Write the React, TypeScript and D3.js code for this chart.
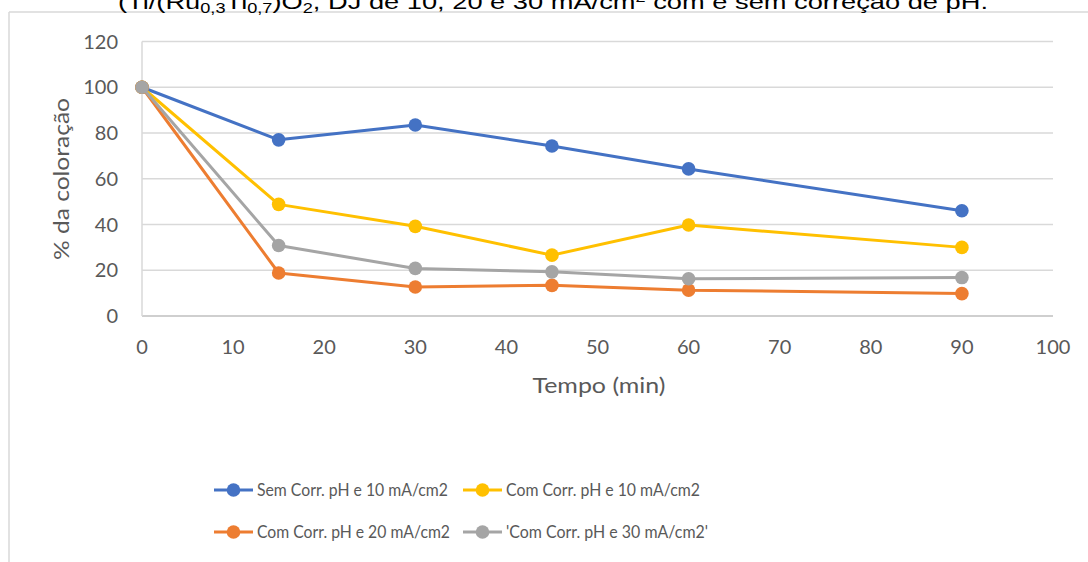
import React from "react";
import * as d3 from "d3";

const times = [0, 15, 30, 45, 60, 90];
const semCorr10 = [100, 77, 83.5, 74.3, 64.3, 46];
const comCorr10 = [100, 48.8, 39.2, 26.6, 39.8, 30];
const comCorr20 = [100, 18.8, 12.7, 13.4, 11.3, 9.8];
const comCorr30 = [100, 30.8, 20.8, 19.3, 16.3, 16.8];
const seriesNames = [
  "Sem Corr. pH e 10 mA/cm2",
  "Com Corr. pH e 10 mA/cm2",
  "Com Corr. pH e 20 mA/cm2",
  "'Com Corr. pH e 30 mA/cm2'",
];
const seriesColors = ["#4472C4", "#FFC000", "#ED7D31", "#A5A5A5"];
const xTicks = [0, 10, 20, 30, 40, 50, 60, 70, 80, 90, 100];
const yTicks = [0, 20, 40, 60, 80, 100, 120];

const W = 1088;
const H = 562;
const FONT = "Lato, 'Open Sans', sans-serif";

export default function App() {
  const x = d3.scaleLinear().domain([0, 100]).range([142, 1053]);
  const y = d3.scaleLinear().domain([0, 120]).range([316, 41.5]);
  const allSeries = [semCorr10, comCorr10, comCorr20, comCorr30];
  const line = d3
    .line<[number, number]>()
    .x((d) => x(d[0]))
    .y((d) => y(d[1]));

  const legendPos = [
    [214, 490, 191],
    [463, 490, 194],
    [214, 532, 193],
    [463, 532, 202],
  ];

  return (
    <svg
      width={W}
      height={H}
      style={{ position: "absolute", left: 0, top: 0, background: "#fff" }}
    >
      <rect x={0} y={0} width={W} height={H} fill="#fff" />
      {/* chart border */}
      <line x1={9} y1={12} x2={W} y2={12} stroke="#D9D9D9" strokeWidth={1.5} />
      <line x1={9} y1={12} x2={9} y2={H} stroke="#D9D9D9" strokeWidth={1.5} />
      {/* title */}
      <text
        x={118}
        y={9}
        fontFamily="'Liberation Sans', Arial, sans-serif"
        fontSize={21}
        fill="#000"
        textLength={870}
        lengthAdjust="spacingAndGlyphs"
      >
        (Ti/(Ru<tspan fontSize={14} dy={4}>0,3</tspan>
        <tspan dy={-4}>Ti</tspan>
        <tspan fontSize={14} dy={4}>0,7</tspan>
        <tspan dy={-4}>)O</tspan>
        <tspan fontSize={14} dy={4}>2</tspan>
        <tspan dy={-4}>, DJ de 10, 20 e 30 mA/cm</tspan>
        <tspan fontSize={14} dy={-7}>2</tspan>
        <tspan dy={7}> com e sem correção de pH.</tspan>
      </text>
      {/* gridlines */}
      {yTicks.map((t) =>
        t === 0 ? null : (
          <line
            key={"g" + t}
            x1={x(0)}
            x2={x(100)}
            y1={y(t)}
            y2={y(t)}
            stroke="#D9D9D9"
            strokeWidth={1.5}
          />
        )
      )}
      {/* axes */}
      <line x1={x(0)} x2={x(100)} y1={y(0)} y2={y(0)} stroke="#BFBFBF" strokeWidth={1.5} />
      <line x1={x(0)} x2={x(0)} y1={y(0)} y2={y(120)} stroke="#D9D9D9" strokeWidth={1.5} />
      {yTicks.map((t) => (
        <text
          key={"yt" + t}
          x={118}
          y={y(t)}
          dy="0.35em"
          textAnchor="end"
          fontFamily={FONT}
          fontSize={20}
          fill="#595959"
        >
          {t}
        </text>
      ))}
      {xTicks.map((t) => (
        <text
          key={"xt" + t}
          x={x(t)}
          y={347}
          dy="0.35em"
          textAnchor="middle"
          fontFamily={FONT}
          fontSize={20}
          fill="#595959"
        >
          {t}
        </text>
      ))}
      <text
        transform={`translate(61,179) rotate(-90)`}
        textAnchor="middle"
        dy="0.35em"
        fontFamily={FONT}
        fontSize={22}
        fill="#595959"
        textLength={162}
        lengthAdjust="spacingAndGlyphs"
      >
        % da coloração
      </text>
      <text
        x={599}
        y={385}
        dy="0.35em"
        textAnchor="middle"
        fontFamily={FONT}
        fontSize={22}
        fill="#595959"
        textLength={133}
        lengthAdjust="spacingAndGlyphs"
      >
        Tempo (min)
      </text>
      {/* series */}
      {allSeries.map((vals, i) => {
        const pts = times.map((t, j) => [t, vals[j]] as [number, number]);
        return (
          <g key={"s" + i}>
            <path
              d={line(pts) || ""}
              fill="none"
              stroke={seriesColors[i]}
              strokeWidth={3}
              strokeLinejoin="round"
            />
            {pts.map((p, j) => (
              <circle
                key={j}
                cx={x(p[0])}
                cy={y(p[1])}
                r={6.8}
                fill={seriesColors[i]}
              />
            ))}
          </g>
        );
      })}
      {/* legend */}
      {seriesNames.map((name, i) => {
        const [lx, ly, tw] = legendPos[i];
        return (
          <g key={"l" + i}>
            <line
              x1={lx}
              x2={lx + 39}
              y1={ly}
              y2={ly}
              stroke={seriesColors[i]}
              strokeWidth={3}
            />
            <circle cx={lx + 19.5} cy={ly} r={6.8} fill={seriesColors[i]} />
            <text
              x={lx + 43}
              y={ly}
              dy="0.35em"
              fontFamily={FONT}
              fontSize={17.5}
              fill="#595959"
              textLength={tw}
              lengthAdjust="spacingAndGlyphs"
            >
              {name}
            </text>
          </g>
        );
      })}
    </svg>
  );
}
